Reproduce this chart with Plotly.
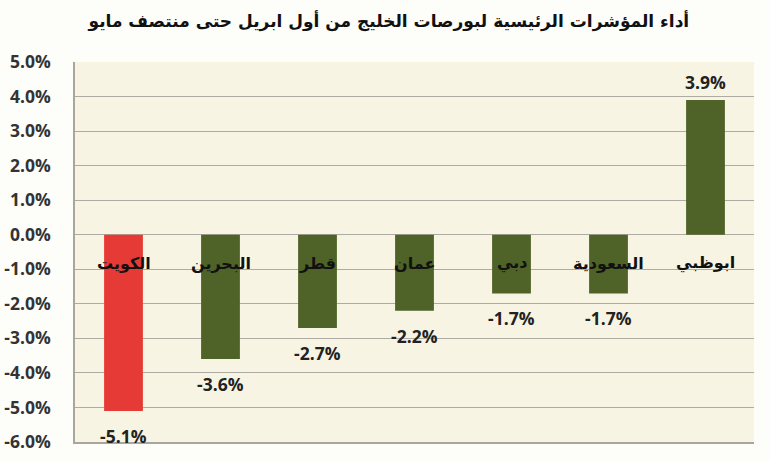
import plotly.graph_objects as go

categories = ["الكويت", "البحرين", "قطر", "عمان", "دبي", "السعودية", "ابوظبي"]
values = [-5.1, -3.6, -2.7, -2.2, -1.7, -1.7, 3.9]
bar_colors = ["#E53A36", "#4F6228", "#4F6228", "#4F6228", "#4F6228", "#4F6228", "#4F6228"]
tick_vals = [5, 4, 3, 2, 1, 0, -1, -2, -3, -4, -5, -6]
title_text = "أداء المؤشرات الرئيسية لبورصات الخليج من أول ابريل حتى منتصف مايو"

x_idx = list(range(len(categories)))

fig = go.Figure()
fig.add_trace(go.Bar(
    x=x_idx, y=values, width=0.4,
    marker=dict(color=bar_colors, line=dict(width=0)),
    hoverinfo="skip",
))

annotations = []
for i, (c, v) in enumerate(zip(categories, values)):
    annotations.append(dict(
        x=i, y=-0.82, xref="x", yref="y", text=c, showarrow=False,
        font=dict(family="DejaVu Sans", size=16, color="#111111", weight="bold"),
    ))
    annotations.append(dict(
        x=i, y=v, xref="x", yref="y", text=f"{v:.1f}%", showarrow=False,
        yshift=(-25 if v < 0 else 18),
        font=dict(family="Open Sans", size=17.5, color="#222222", weight="bold"),
    ))

fig.update_layout(
    width=770, height=461,
    margin=dict(l=75, r=16, t=62, b=19, autoexpand=False),
    paper_bgcolor="#FDFDFA",
    plot_bgcolor="#F8F4E3",
    showlegend=False,
    title=dict(text=title_text, x=0.505, xanchor="center", y=0.955, yanchor="middle",
               font=dict(family="DejaVu Sans", size=17, color="#111111", weight="bold")),
    xaxis=dict(range=[-0.5, 6.5], showticklabels=False, showgrid=False, zeroline=False,
               automargin=False,
               showline=True, linecolor="#A9A79C", linewidth=1.5, mirror=False, ticks=""),
    yaxis=dict(range=[-6, 5], tickvals=tick_vals, ticktext=[f"{t:.1f}%" for t in tick_vals],
               showgrid=True, gridcolor="#AEACA2", gridwidth=1, zeroline=False,
               automargin=False,
               showline=True, linecolor="#A9A79C", linewidth=1.5, ticks="",
               ticklabelstandoff=19,
               tickfont=dict(family="Open Sans", size=17.5, color="#333333", weight="bold")),
    annotations=annotations,
)

fig.write_html("out.html")
